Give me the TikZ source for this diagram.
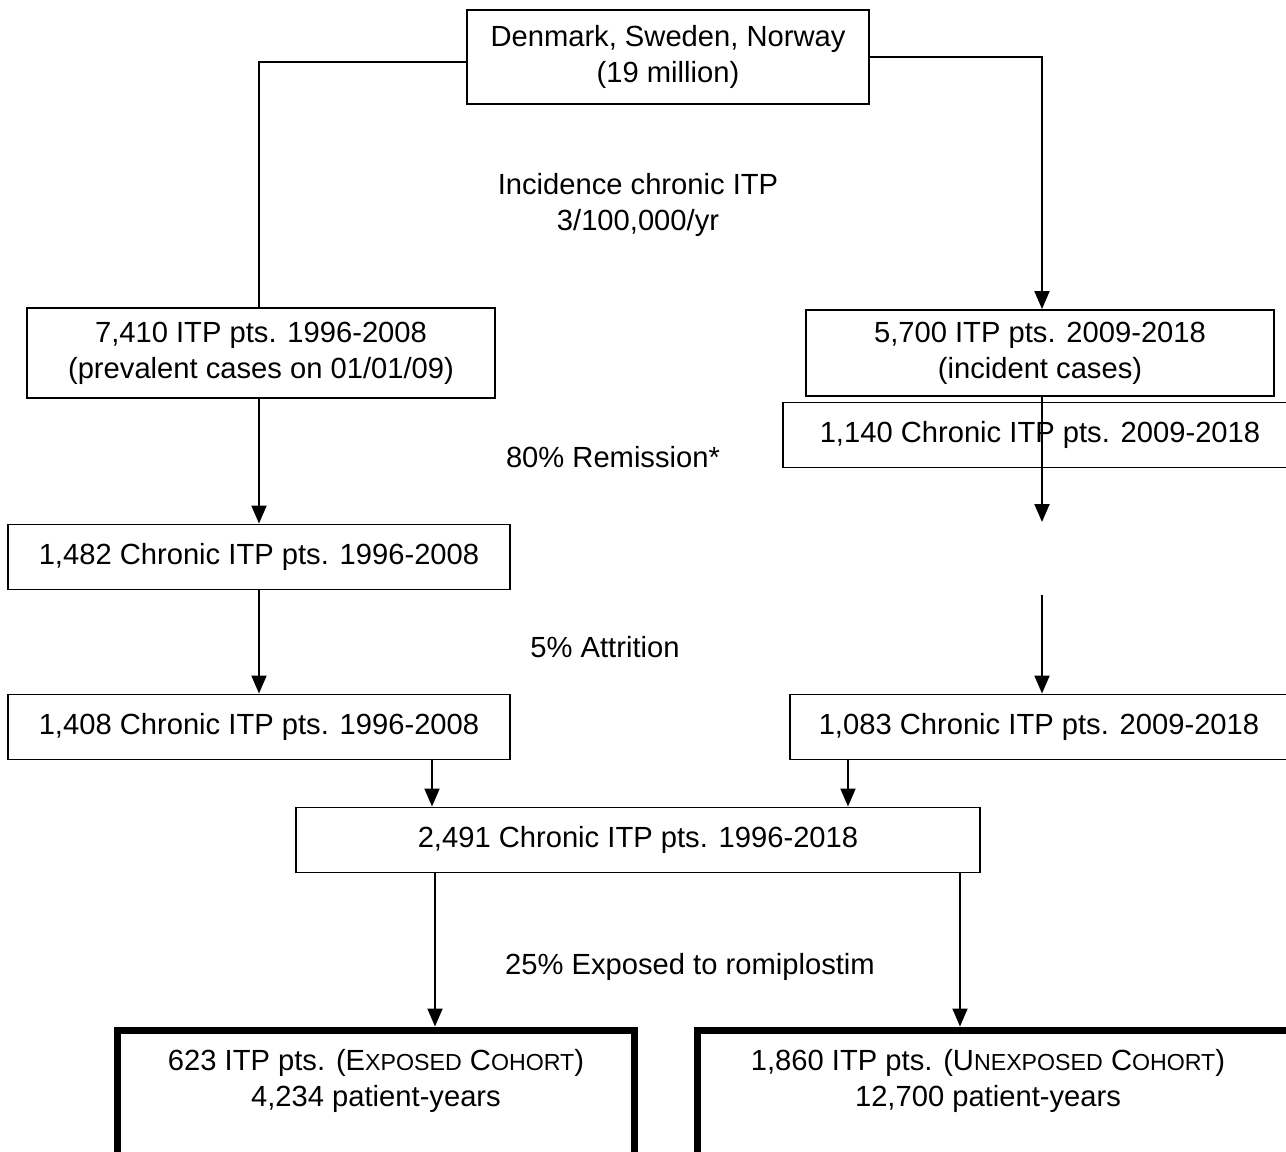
\documentclass[tikz,border=0pt]{standalone}
\usepackage{fontspec}
\setmainfont{Liberation Sans}
\usetikzlibrary{arrows.meta}

\tikzset{
  flowbox/.style={draw, line width=1.1pt, align=center, inner sep=0pt},
  cohortbox/.style={draw, line width=4pt, inner sep=0pt},
  flowline/.style={line width=1.1pt},
  flowarrow/.style={line width=1.1pt, -{Triangle[length=0.36cm, width=0.3cm]}},
  steplabel/.style={align=center, inner sep=0pt}
}
\newcommand{\smcap}[1]{{\fontsize{13.2}{16}\selectfont #1}}

\begin{document}
\begin{tikzpicture}[x=0.02cm, y=-0.02cm, font=\fontsize{16.6}{20.5}\selectfont]
    \useasboundingbox (0,0) rectangle (1286,1152);
    \fill[white] (0,0) rectangle (1286,1152);

    % source population
    \node[flowbox, minimum width=8.06cm, minimum height=1.88cm] (country) at (668,57)
        {Denmark, Sweden, Norway\\(19 million)};
    \node[steplabel] (incid) at (638,205) {Incidence chronic ITP\\3/100,000/yr};

    % left column: prevalent cases
    \node[flowbox, minimum width=9.38cm, minimum height=1.8cm] (prev) at (261,353)
        {7,410 ITP pts. 1996-2008\\(prevalent cases on 01/01/09)};
    \node[flowbox, minimum width=10.04cm, minimum height=1.3cm] (chr1) at (259,557)
        {1,482 Chronic ITP pts. 1996-2008};
    \node[flowbox, minimum width=10.04cm, minimum height=1.3cm] (ret1) at (259,727)
        {1,408 Chronic ITP pts. 1996-2008};

    % right column: incident cases
    \node[flowbox, minimum width=9.36cm, minimum height=1.72cm] (inc) at (1040,353)
        {5,700 ITP pts. 2009-2018\\(incident cases)};
    \node[flowbox, minimum width=10.28cm, minimum height=1.3cm] (chr2) at (1040,435)
        {1,140 Chronic ITP pts. 2009-2018};
    \node[flowbox, minimum width=9.96cm, minimum height=1.3cm] (ret2) at (1039,727)
        {1,083 Chronic ITP pts. 2009-2018};

    \node[steplabel] (remis) at (613,457) {80\% Remission*};
    \node[steplabel] (attr) at (605,647) {5\% Attrition};

    % pooled cohort
    \node[flowbox, minimum width=13.68cm, minimum height=1.3cm] (total) at (638,840)
        {2,491 Chronic ITP pts. 1996-2018};
    \node[steplabel] (expo) at (690,967) {25\% Exposed to romiplostim};

    % study cohorts
    \node[cohortbox, minimum width=10.36cm, minimum height=3.4cm] (exp) at (376,1115) {};
    \node[steplabel] (exptext) at (376,1081)
        {623 ITP pts. (E\smcap{XPOSED} C\smcap{OHORT})\\4,234 patient-years};
    \node[cohortbox, minimum width=12cm, minimum height=3.4cm] (unexp) at (997,1115) {};
    \node[steplabel] (unexptext) at (988,1081)
        {1,860 ITP pts. (U\smcap{NEXPOSED} C\smcap{OHORT})\\12,700 patient-years};

    % free ends and branch columns
    \coordinate (colL) at (259,0);
    \coordinate (colR) at (1042,0);
    \coordinate (gaptop) at (1042,522);
    \coordinate (gapbot) at (1042,595);
    \coordinate (colA) at (432,0);
    \coordinate (colB) at (848,0);
    \coordinate (colC) at (435,0);
    \coordinate (colD) at (960,0);

    % connectors
    \draw[flowline] ([yshift=-0.1cm]country.west) -| (prev.north -| colL);
    \draw[flowarrow] (country.east) -| (inc.north -| colR);
    \draw[flowarrow] (prev.south -| colL) -- (chr1.north -| colL);
    \draw[flowarrow] (chr1.south -| colL) -- (ret1.north -| colL);
    \draw[flowarrow] (inc.south -| colR) -- (gaptop);
    \draw[flowarrow] (gapbot) -- (ret2.north -| colR);
    \draw[flowarrow] (ret1.south -| colA) -- (total.north -| colA);
    \draw[flowarrow] (ret2.south -| colB) -- (total.north -| colB);
    \draw[flowarrow] (total.south -| colC) -- (exp.north -| colC);
    \draw[flowarrow] (total.south -| colD) -- (unexp.north -| colD);
\end{tikzpicture}
\end{document}
